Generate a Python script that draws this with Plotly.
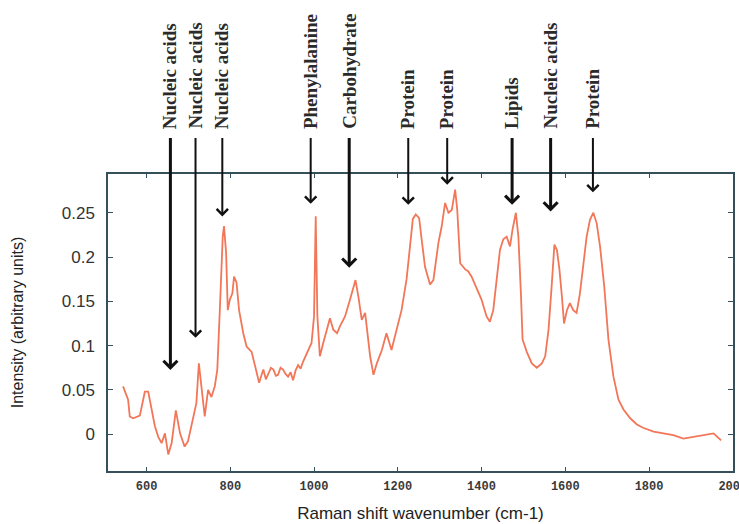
import plotly.graph_objects as go

# Raman spectrum
wavenumber = [544, 556, 560, 568, 584, 596, 604, 612, 620, 628, 636, 644, 652, 660, 670, 680,
              691, 699, 707, 719, 725, 731, 739, 747, 755, 763, 769, 775, 782, 785, 790, 794,
              799, 805, 809, 815, 821, 831, 839, 851, 859, 869, 874, 879, 885, 891, 897, 903,
              909, 914, 920, 926, 932, 938, 944, 950, 956, 962, 968, 974, 980, 986, 994, 1000,
              1004, 1008, 1014, 1022, 1030, 1038, 1046, 1055, 1062, 1074, 1086, 1094, 1099,
              1106, 1114, 1122, 1126, 1134, 1142, 1150, 1162, 1173, 1185, 1197, 1209, 1221,
              1229, 1236, 1243, 1251, 1257, 1265, 1277, 1285, 1297, 1305, 1313, 1321, 1329,
              1337, 1342, 1349, 1361, 1368, 1376, 1388, 1400, 1412, 1420, 1428, 1436, 1444,
              1452, 1460, 1468, 1474, 1482, 1488, 1494, 1498, 1508, 1520, 1532, 1544, 1552,
              1560, 1568, 1574, 1580, 1586, 1592, 1597, 1604, 1611, 1619, 1627, 1635, 1643,
              1651, 1659, 1667, 1675, 1683, 1693, 1703, 1715, 1727, 1739, 1755, 1771, 1787,
              1811, 1835, 1858, 1882, 1906, 1930, 1954, 1972]
intensity = [0.054, 0.039, 0.020, 0.018, 0.021, 0.048, 0.048, 0.027, 0.009, -0.003, -0.010,
             0.001, -0.023, -0.010, 0.027, 0.001, -0.014, -0.008, 0.009, 0.035, 0.080, 0.054,
             0.020, 0.050, 0.042, 0.054, 0.073, 0.140, 0.223, 0.235, 0.205, 0.140, 0.152,
             0.159, 0.178, 0.171, 0.140, 0.114, 0.099, 0.093, 0.076, 0.058, 0.066, 0.073,
             0.062, 0.069, 0.075, 0.073, 0.066, 0.067, 0.075, 0.073, 0.068, 0.065, 0.070,
             0.061, 0.072, 0.078, 0.074, 0.082, 0.088, 0.095, 0.103, 0.133, 0.246, 0.133,
             0.088, 0.103, 0.118, 0.131, 0.118, 0.114, 0.122, 0.133, 0.152, 0.165, 0.174,
             0.155, 0.129, 0.137, 0.118, 0.088, 0.067, 0.080, 0.095, 0.114, 0.095, 0.118,
             0.140, 0.175, 0.215, 0.243, 0.248, 0.244, 0.220, 0.189, 0.169, 0.174, 0.216,
             0.235, 0.261, 0.250, 0.253, 0.276, 0.253, 0.193, 0.186, 0.184, 0.178, 0.165,
             0.152, 0.133, 0.127, 0.140, 0.174, 0.208, 0.220, 0.223, 0.212, 0.231, 0.250,
             0.223, 0.159, 0.107, 0.093, 0.080, 0.075, 0.080, 0.088, 0.118, 0.171, 0.214,
             0.208, 0.186, 0.155, 0.125, 0.140, 0.148, 0.140, 0.137, 0.159, 0.193, 0.223,
             0.242, 0.250, 0.238, 0.212, 0.167, 0.107, 0.065, 0.039, 0.028, 0.018, 0.011,
             0.007, 0.003, 0.001, -0.001, -0.005, -0.003, -0.001, 0.001, -0.007]

# Band assignments (arrow tips)
band_labels = ["Nucleic acids", "Nucleic acids", "Nucleic acids", "Phenylalanine",
               "Carbohydrate", "Protein", "Protein", "Lipids", "Nucleic acids", "Protein"]
band_x = [657, 717, 781, 992, 1084, 1225, 1318, 1473, 1565, 1666]
band_y = [0.0726, 0.1088, 0.2458, 0.260, 0.188, 0.259, 0.2816, 0.259, 0.2515, 0.273]

x_ticks = [600, 800, 1000, 1200, 1400, 1600, 1800, 2000]
x_tick_text = ["600", "800", "1000", "1200", "1400", "1600", "1800", "2000"]
y_ticks = [0, 0.05, 0.1, 0.15, 0.2, 0.25]
y_tick_text = ["0", "0.05", "0.1", "0.15", "0.2", "0.25"]

arrow_widths = [3, 2, 2, 2, 3, 2, 2, 3, 3, 2]

fig = go.Figure()
fig.add_trace(go.Scatter(x=wavenumber, y=intensity, mode="lines",
                         line=dict(color="rgb(242,118,88)", width=1.8),
                         showlegend=False, hoverinfo="skip"))

annotations = []
for lab, bx, by, w in zip(band_labels, band_x, band_y, arrow_widths):
    annotations.append(dict(x=bx, y=by, xref="x", yref="y", ax=bx, ay=0.336,
                            axref="x", ayref="y", text="", showarrow=True,
                            arrowhead=4, arrowsize=1.1 if w == 2 else 0.9,
                            arrowwidth=w, arrowcolor="#111111"))
    annotations.append(dict(x=bx, y=1.145, xref="x", yref="paper", text=lab,
                            textangle=-90, showarrow=False, xanchor="center",
                            yanchor="bottom",
                            font=dict(family="Liberation Serif", size=19,
                                      color="#2a2a2a", weight="bold")))

axis_line = "#34505a"
fig.update_layout(
    width=739, height=524,
    margin=dict(l=108, r=6, t=174, b=53),
    paper_bgcolor="white", plot_bgcolor="white",
    annotations=annotations,
    xaxis=dict(range=[508, 2000.5], tickvals=x_ticks, ticktext=x_tick_text,
               ticks="inside", ticklen=4, automargin=False, ticklabeloverflow="allow",
               tickcolor=axis_line, showline=True, linecolor=axis_line, linewidth=1.5,
               mirror="ticks", showgrid=False, zeroline=False, ticklabelstandoff=3,
               tickfont=dict(family="Liberation Mono", size=12, color="#3a3a3a",
                             weight="bold"),
               title=dict(text="Raman shift wavenumber (cm-1)", standoff=14,
                          font=dict(family="Liberation Sans", size=17, color="#222222"))),
    yaxis=dict(range=[-0.0415, 0.2937], tickvals=y_ticks, ticktext=y_tick_text,
               ticks="inside", ticklen=5, tickcolor=axis_line, showline=True,
               automargin=False,
               linecolor=axis_line, linewidth=1.5, mirror="ticks", showgrid=False,
               zeroline=False, ticklabelstandoff=8,
               tickfont=dict(family="Liberation Sans", size=17, color="#333333"),
               title=dict(text="Intensity (arbitrary units)", standoff=34,
                          font=dict(family="Liberation Sans", size=16, color="#222222"))),
)

fig.write_html("out.html", config={"displayModeBar": False},
               post_script="document.body.style.margin='0';document.body.style.overflow='hidden';")
